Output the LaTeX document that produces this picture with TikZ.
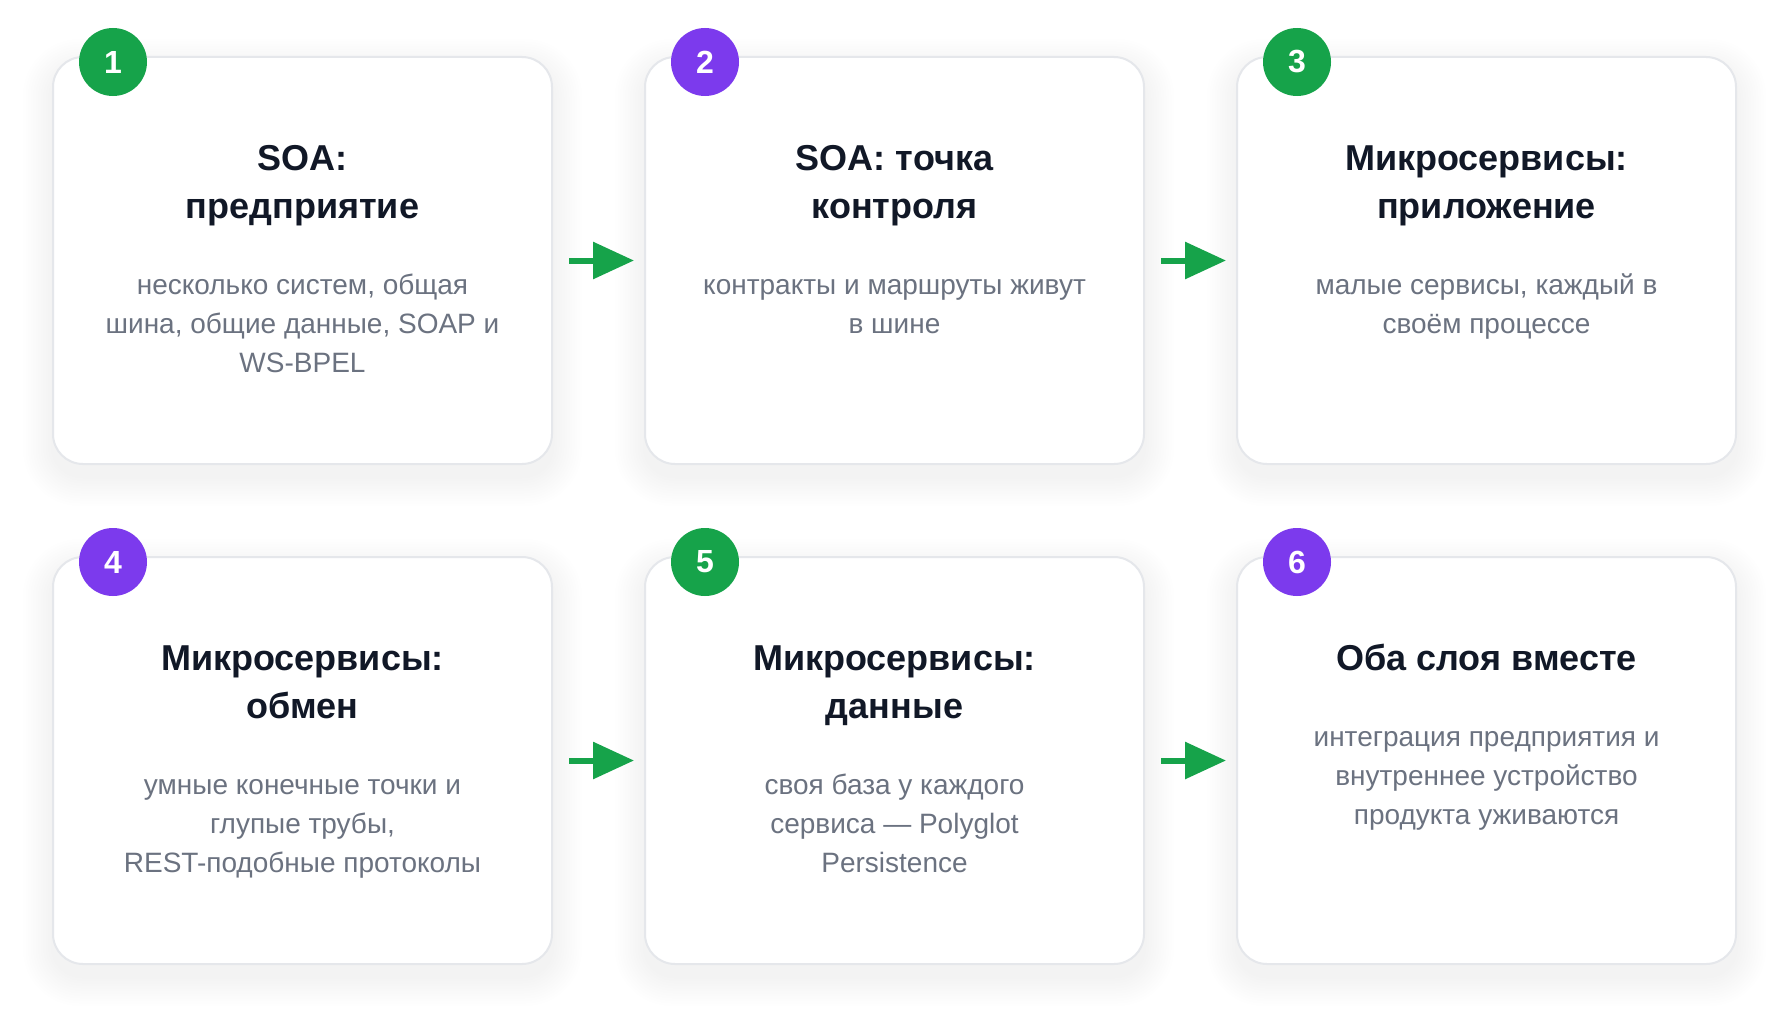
\documentclass[tikz,border=0pt]{standalone}
\usepackage{fontspec}
\setmainfont{Liberation Sans}
\usetikzlibrary{arrows.meta,calc}
\definecolor{okgreen}{HTML}{16A34A}
\definecolor{okpurple}{HTML}{7C3AED}
\definecolor{titlecol}{HTML}{111827}
\definecolor{bodycol}{HTML}{6B7280}
\definecolor{bordercol}{HTML}{E5E7EB}
\tikzset{
  card/.style={draw=bordercol, line width=2pt, fill=white, rounded corners=30pt,
    minimum width=499pt, minimum height=407pt, outer sep=0pt, inner sep=0pt},
  badge/.style={circle, minimum size=68pt, inner sep=0pt, text=white,
    font=\fontsize{32}{38}\selectfont\bfseries},
  gbadge/.style={badge, fill=okgreen},
  pbadge/.style={badge, fill=okpurple},
  cardtitle/.style={anchor=north, inner sep=0pt, align=center, text=titlecol,
    font=\fontsize{36}{48}\selectfont\bfseries},
  cardbody/.style={anchor=north, inner sep=0pt, align=center, text=bodycol,
    font=\fontsize{28}{39}\selectfont},
  flow/.style={draw=okgreen, line width=6pt, shorten <=17pt, shorten >=11pt,
    -{Triangle[length=41pt, width=36pt]}},
}
\begin{document}
\begin{tikzpicture}[x=1pt, y=-1pt]
\useasboundingbox (0,0) rectangle (1790,1025);
\fill[white] (0,0) rectangle (1790,1025);
% soft shadows
\foreach \cx/\cy in {302.5/260.5, 894.5/260.5, 1486.5/260.5, 302.5/760.5, 894.5/760.5, 1486.5/760.5}{
  \foreach \i in {1,...,12}{
    \pgfmathsetmacro{\ex}{\i*2.5}
    \pgfmathsetmacro{\rc}{30+\i*2.2}
    \fill[black, opacity=0.0045, rounded corners=\rc pt]
      (\cx-249.5-\ex, \cy-203.5-\ex+12) rectangle (\cx+249.5+\ex, \cy+203.5+\ex+12);
  }
}
% cards
\node[card] (c1) at (302.5,260.5) {};
\node[card] (c2) at (894.5,260.5) {};
\node[card] (c3) at (1486.5,260.5) {};
\node[card] (c4) at (302.5,760.5) {};
\node[card] (c5) at (894.5,760.5) {};
\node[card] (c6) at (1486.5,760.5) {};
% badges
\node[gbadge] (b1) at ($(c1.north west)+(60,5)$) {1};
\node[pbadge] (b2) at ($(c2.north west)+(60,5)$) {2};
\node[gbadge] (b3) at ($(c3.north west)+(60,5)$) {3};
\node[pbadge] (b4) at ($(c4.north west)+(60,5)$) {4};
\node[gbadge] (b5) at ($(c5.north west)+(60,5)$) {5};
\node[pbadge] (b6) at ($(c6.north west)+(60,5)$) {6};
% titles
\node[cardtitle] (t1) at ($(c1.north)+(0,79.4)$) {\strut SOA:\\предприятие};
\node[cardtitle] (t2) at ($(c2.north)+(0,79.4)$) {\strut SOA: точка\\контроля};
\node[cardtitle] (t3) at ($(c3.north)+(0,79.4)$) {\strut Микросервисы:\\приложение};
\node[cardtitle] (t4) at ($(c4.north)+(0,79.4)$) {\strut Микросервисы:\\обмен};
\node[cardtitle] (t5) at ($(c5.north)+(0,79.4)$) {\strut Микросервисы:\\данные};
\node[cardtitle] (t6) at ($(c6.north)+(0,79.4)$) {\strut Оба слоя вместе};
% bodies
\node[cardbody] (d1) at ($(c1.north)+(0,209.7)$) {\strut несколько систем, общая\\шина, общие данные, SOAP и\\WS-BPEL};
\node[cardbody] (d2) at ($(c2.north)+(0,209.7)$) {\strut контракты и маршруты живут\\в шине};
\node[cardbody] (d3) at ($(c3.north)+(0,209.7)$) {\strut малые сервисы, каждый в\\своём процессе};
\node[cardbody] (d4) at ($(c4.north)+(0,209.7)$) {\strut умные конечные точки и\\глупые трубы,\\REST-подобные протоколы};
\node[cardbody] (d5) at ($(c5.north)+(0,209.7)$) {\strut своя база у каждого\\сервиса — Polyglot\\Persistence};
\node[cardbody] (d6) at ($(c6.north)+(0,161.7)$) {\strut интеграция предприятия и\\внутреннее устройство\\продукта уживаются};
% arrows
\draw[flow] (c1.east) -- (c2.west);
\draw[flow] (c2.east) -- (c3.west);
\draw[flow] (c4.east) -- (c5.west);
\draw[flow] (c5.east) -- (c6.west);
\end{tikzpicture}
\end{document}
